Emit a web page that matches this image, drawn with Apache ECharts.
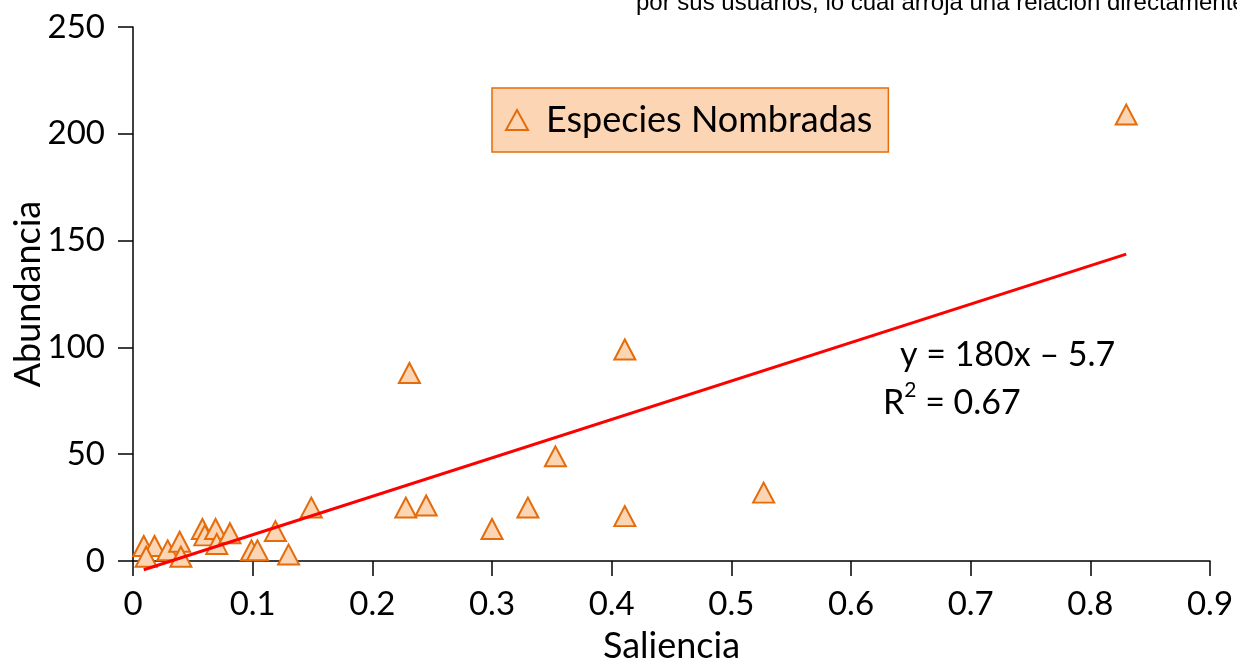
<!DOCTYPE html>
<html>
<head>
<meta charset="utf-8">
<script src="https://cdn.jsdelivr.net/npm/echarts@6/dist/echarts.min.js"></script>
<style>
  html, body { margin: 0; padding: 0; background: #fff; }
  #chart { width: 1237px; height: 661px; }
</style>
</head>
<body>
<div id="chart"></div>
<script>
// Saliencia (x) vs Abundancia (y)
const saliencia = [0.009, 0.018, 0.011, 0.029, 0.039, 0.040, 0.058, 0.060, 0.069, 0.070,
                   0.081, 0.099, 0.104, 0.119, 0.130, 0.149, 0.228, 0.231, 0.245, 0.300,
                   0.330, 0.353, 0.411, 0.411, 0.527, 0.830]
const abundancia = [7, 7, 2, 5, 9, 2, 15, 12, 15, 8,
                    13, 5, 5, 14, 3, 25, 25, 88, 26, 15,
                    25, 49, 99, 21, 32, 209]
const xTicks = [0, 0.1, 0.2, 0.3, 0.4, 0.5, 0.6, 0.7, 0.8, 0.9]
const yTicks = [0, 50, 100, 150, 200, 250]
const slope = 180
const intercept = -5.7

const font = 'Lato, Carlito, Calibri, sans-serif'
const orange = '#e46c0a'
const peach = '#fcd5b5'

const points = saliencia.map((x, i) => [x, abundancia[i]])
const xMin = Math.min(...saliencia)
const xMax = Math.max(...saliencia)
const trend = [[xMin, slope * xMin + intercept], [xMax, slope * xMax + intercept]]

const chart = echarts.init(document.getElementById('chart'))

const axisCommon = {
    axisLine: { show: true, onZero: false, lineStyle: { color: '#000', width: 1.5 } },
    axisTick: { show: true, inside: false, length: 15, lineStyle: { color: '#000', width: 1.5 } },
    splitLine: { show: false },
    nameMoveOverlap: false,
    nameTextStyle: { fontFamily: font, fontSize: 36, color: '#000' }
}

chart.setOption({
    animation: false,
    grid: { left: 133, right: 27, top: 27, bottom: 100, containLabel: false, outerBoundsMode: 'none' },
    xAxis: {
        ...axisCommon,
        type: 'value',
        min: xTicks[0],
        max: xTicks[xTicks.length - 1],
        interval: 0.1,
        name: 'Saliencia',
        nameLocation: 'middle',
        nameGap: 67,
        axisLabel: {
            fontFamily: font, fontSize: 33, color: '#000', margin: 27,
            formatter: v => String(Math.round(v * 10) / 10)
        }
    },
    yAxis: {
        ...axisCommon,
        type: 'value',
        min: yTicks[0],
        max: yTicks[yTicks.length - 1],
        interval: 50,
        name: 'Abundancia',
        nameLocation: 'middle',
        nameGap: 87,
        axisLabel: { fontFamily: font, fontSize: 33, color: '#000', margin: 28 }
    },
    legend: {
        left: 492,
        top: 88,
        orient: 'horizontal',
        backgroundColor: peach,
        borderColor: orange,
        borderWidth: 1.5,
        borderRadius: 0,
        padding: [14, 16, 14, 13],
        itemWidth: 22,
        itemHeight: 20,
        data: [{
            name: 'Especies Nombradas',
            icon: 'triangle',
            itemStyle: { color: peach, borderColor: orange, borderWidth: 2 }
        }],
        textStyle: { fontFamily: font, fontSize: 36, color: '#000', padding: [0, 0, 0, 13] }
    },
    series: [
        {
            name: 'Especies Nombradas',
            type: 'scatter',
            symbol: 'triangle',
            symbolSize: [21, 20],
            itemStyle: { color: peach, borderColor: orange, borderWidth: 2, opacity: 1 },
            data: points,
            z: 2
        },
        {
            name: 'Tendencia',
            type: 'line',
            data: trend,
            symbol: 'none',
            clip: false,
            lineStyle: { color: '#ff0000', width: 3 },
            z: 3
        }
    ],
    graphic: [
        {
            type: 'text',
            left: 636,
            top: -9,
            style: {
                text: 'por sus usuarios, lo cual arroja una relación directamente',
                font: '24px "Liberation Sans", Arial, sans-serif',
                fill: '#000'
            }
        },
        {
            type: 'text',
            left: 900,
            top: 338,
            style: {
                text: 'y = 180x – 5.7',
                font: '34px ' + font,
                fill: '#000'
            }
        },
        {
            type: 'text',
            left: 883,
            top: 380,
            style: {
                text: '{b|R}{s|2}{b| = 0.67}',
                rich: {
                    b: { fontFamily: font, fontSize: 34, fill: '#000', verticalAlign: 'bottom', lineHeight: 40 },
                    s: { fontFamily: font, fontSize: 21, fill: '#000', verticalAlign: 'top', lineHeight: 40 }
                }
            }
        }
    ]
})

window.addEventListener('resize', () => chart.resize())
</script>
</body>
</html>
